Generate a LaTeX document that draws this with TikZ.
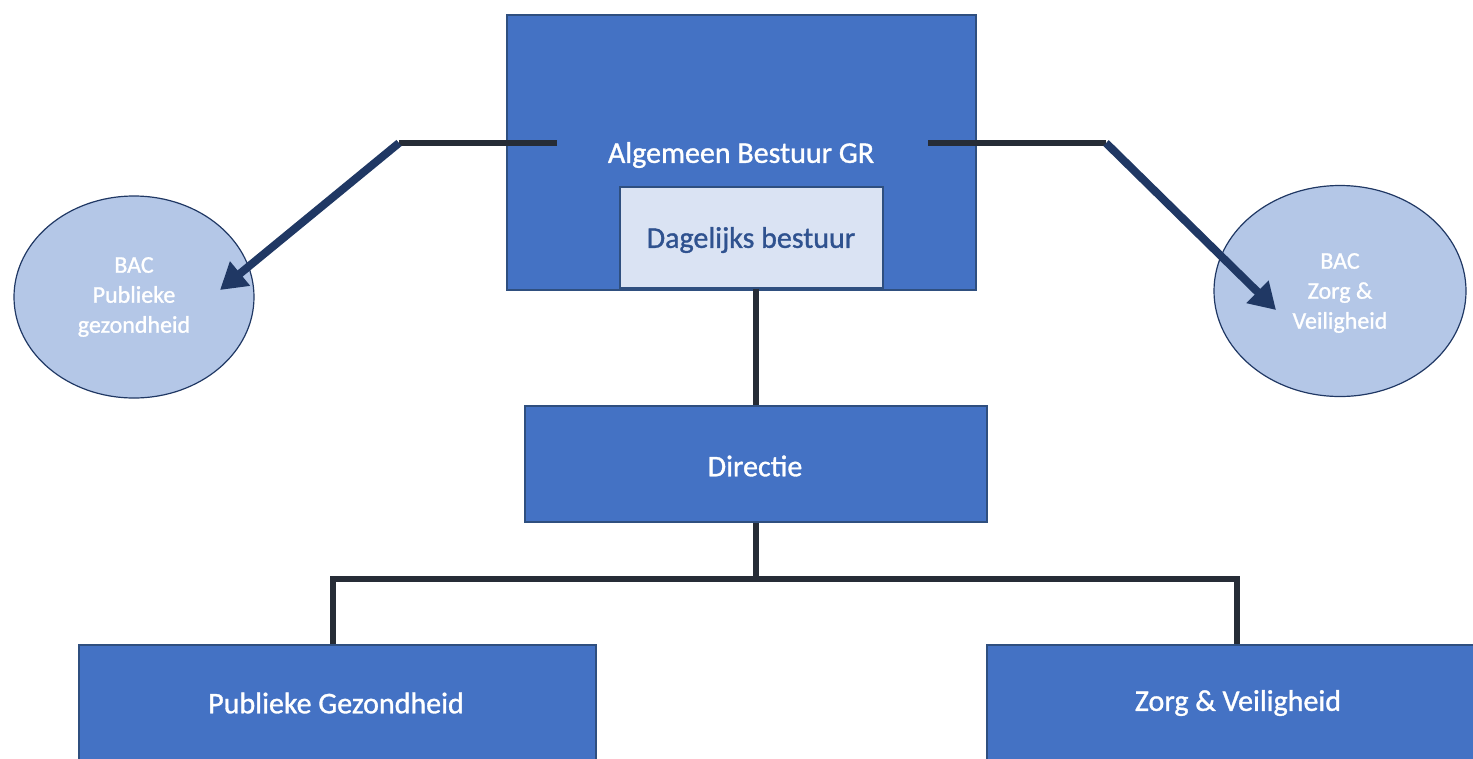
\documentclass[tikz,border=0pt]{standalone}
\usepackage{fontspec}
\setmainfont{Carlito}[FakeBold=1.1]
\usetikzlibrary{arrows.meta,shapes.geometric}
\definecolor{boxblue}{HTML}{4472C4}
\definecolor{boxedge}{HTML}{2F4F7F}
\definecolor{lightfill}{HTML}{DAE3F3}
\definecolor{ellfill}{HTML}{B4C7E7}
\definecolor{navy}{HTML}{203864}
\definecolor{linedark}{HTML}{262C36}
\definecolor{dbtext}{HTML}{2F528F}
\tikzset{
  bigtext/.style={font=\fontsize{30}{36}\selectfont},
  bluebox/.style={draw=boxedge, line width=1.5pt, fill=boxblue, text=white, inner sep=0pt, bigtext},
  lightbox/.style={draw=boxedge, line width=1.5pt, fill=lightfill, text=dbtext, inner sep=0pt, bigtext},
  bacell/.style={draw=navy, line width=1.2pt, fill=ellfill, text=white, inner sep=0pt, align=center, font=\fontsize{24}{30}\selectfont},
  connline/.style={draw=linedark, line width=6.5pt},
  arrowline/.style={draw=navy, line width=8pt, -{Triangle[length=26pt,width=30pt]}}
}
\begin{document}
\begin{tikzpicture}[x=1pt,y=1pt]
\useasboundingbox (0,0) rectangle (1473,-758);
% main box
\node[bluebox, minimum width=469pt, minimum height=275pt, anchor=north west] (ab) at (506,-14) {};
\node[text=white, bigtext] (abt) at (741,-155) {Algemeen Bestuur GR};
\node[lightbox, minimum width=263pt, minimum height=101pt, anchor=north west] (db) at (619,-186) {};
\node[text=dbtext, bigtext] (dbt) at (751,-240) {Dagelijks bestuur};
% ellipses
\node[bacell, ellipse, minimum width=240pt, minimum height=202pt] (bacl) at (134,-297) {};
\node[text=white, align=center, font=\fontsize{24}{30}\selectfont] (baclt) at (134,-297) {BAC\\Publieke\\gezondheid};
\node[bacell, ellipse, minimum width=252pt, minimum height=211pt] (bacr) at (1340,-291) {};
\node[text=white, align=center, font=\fontsize{24}{30}\selectfont] (bacrt) at (1340,-293) {BAC\\Zorg \&\\Veiligheid};
% directie
\node[bluebox, minimum width=462pt, minimum height=116pt, anchor=north west] (dir) at (524,-405) {};
\node[text=white, bigtext] (dirt) at (755,-466) {Directie};
% bottom boxes
\node[bluebox, minimum width=517pt, minimum height=120pt, anchor=north west] (pg) at (78,-644) {};
\node[text=white, bigtext] (pgt) at (336,-703) {Publieke Gezondheid};
\node[bluebox, minimum width=500pt, minimum height=120pt, anchor=north west] (zv) at (986,-644) {};
\node[text=white, bigtext] (zvt) at (1238,-703) {Zorg \& Veiligheid};
% connector coordinates
\coordinate (la) at (557,-143);
\coordinate (lb) at (399,-143);
\coordinate (ltip) at (220,-290);
\coordinate (ra) at (928,-143);
\coordinate (rb) at (1106,-143);
\coordinate (rtip) at (1276,-310);
\coordinate (jn) at (755,-579);
\coordinate (pgtop) at (333,-644);
\coordinate (zvtop) at (1237,-644);
% lines
\draw[connline] (la) -- (lb);
\draw[arrowline] (lb) -- (ltip);
\draw[connline] (ra) -- (rb);
\draw[arrowline] (rb) -- (rtip);
\draw[connline] (db.south -| dir.north) -- (dir.north);
\draw[connline] (dir.south) -- (dir.south |- jn);
\draw[connline] (pgtop) |- (jn) -| (zvtop);
\end{tikzpicture}
\end{document}
